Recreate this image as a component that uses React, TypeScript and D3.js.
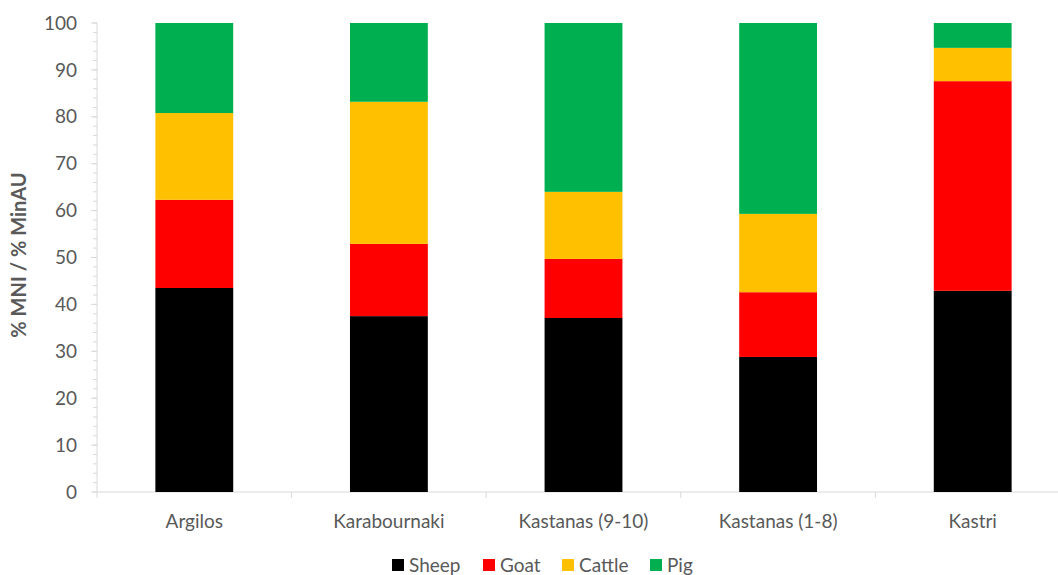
import React from "react";
import * as d3 from "d3";

const categories = ["Argilos", "Karabournaki", "Kastanas (9-10)", "Kastanas (1-8)", "Kastri"];
const seriesNames = ["Sheep", "Goat", "Cattle", "Pig"];
const sheep = [43.5, 37.5, 37.1, 28.8, 42.9];
const goat = [18.8, 15.4, 12.6, 13.8, 44.7];
const cattle = [18.5, 30.3, 14.3, 16.7, 7.1];
const pig = [19.2, 16.8, 36.0, 40.7, 5.3];
const colors = ["#000000", "#FF0000", "#FFC000", "#00B050"];
const yTicks = [0, 10, 20, 30, 40, 50, 60, 70, 80, 90, 100];

const W = 1058, H = 575;
const left = 97, top = 23, bottom = 492;
const bandW = 194.6;

export default function App() {
  const values = [sheep, goat, cattle, pig];
  const rows = categories.map((c, i) => {
    const r: any = { cat: c };
    seriesNames.forEach((s, j) => (r[s] = values[j][i]));
    return r;
  });
  const stacked = d3.stack().keys(seriesNames)(rows);
  const x = d3.scaleBand().domain(categories).range([left, left + bandW * categories.length]).paddingInner(0.6).paddingOuter(0.3);
  const y = d3.scaleLinear().domain([0, 100]).range([bottom, top]);
  const minor = d3.range(0, 101, 2);
  const font = "Lato, 'Open Sans', sans-serif";
  const legendX = [392, 483, 562, 650];

  return (
    <svg width={W} height={H} style={{ position: "absolute", left: 0, top: 0, background: "#fff" }} fontFamily={font}>
      {/* y axis */}
      <line x1={left} x2={left} y1={top} y2={bottom} stroke="#d9d9d9" />
      {minor.map((t) => (
        <line key={"m" + t} x1={left - 4} x2={left} y1={y(t)} y2={y(t)} stroke="#d9d9d9" />
      ))}
      {yTicks.map((t) => (
        <g key={t}>
          <line x1={left - 6} x2={left} y1={y(t)} y2={y(t)} stroke="#d9d9d9" />
          <text x={left - 20} y={y(t)} dy="0.35em" textAnchor="end" fontSize={19} fill="#595959">{t}</text>
        </g>
      ))}
      {/* x axis */}
      <line x1={left} x2={W} y1={bottom} y2={bottom} stroke="#d9d9d9" />
      {d3.range(0, categories.length + 1).map((i) => (
        <line key={"xt" + i} x1={left + i * bandW} x2={left + i * bandW} y1={bottom} y2={bottom + 6} stroke="#d9d9d9" />
      ))}
      {categories.map((c) => (
        <text key={c} x={x(c)! + x.bandwidth() / 2} y={528} textAnchor="middle" fontSize={19} fill="#595959">{c}</text>
      ))}
      {/* bars */}
      {stacked.map((s, j) => (
        <g key={s.key} fill={colors[j]}>
          {s.map((d, i) => (
            <rect key={i} x={x(categories[i])} width={x.bandwidth()} y={y(d[1])} height={y(d[0]) - y(d[1])} />
          ))}
        </g>
      ))}
      {/* y title */}
      <text transform={`translate(26,255) rotate(-90)`} textAnchor="middle" fontSize={20} fontWeight="bold" fill="#595959">% MNI / % MinAU</text>
      {/* legend */}
      {seriesNames.map((s, j) => (
        <g key={s} transform={`translate(${legendX[j]},559)`}>
          <rect x={0} y={0} width={12} height={12} fill={colors[j]} />
          <text x={17} y={6} dy="0.38em" fontSize={19} fill="#595959">{s}</text>
        </g>
      ))}
    </svg>
  );
}
